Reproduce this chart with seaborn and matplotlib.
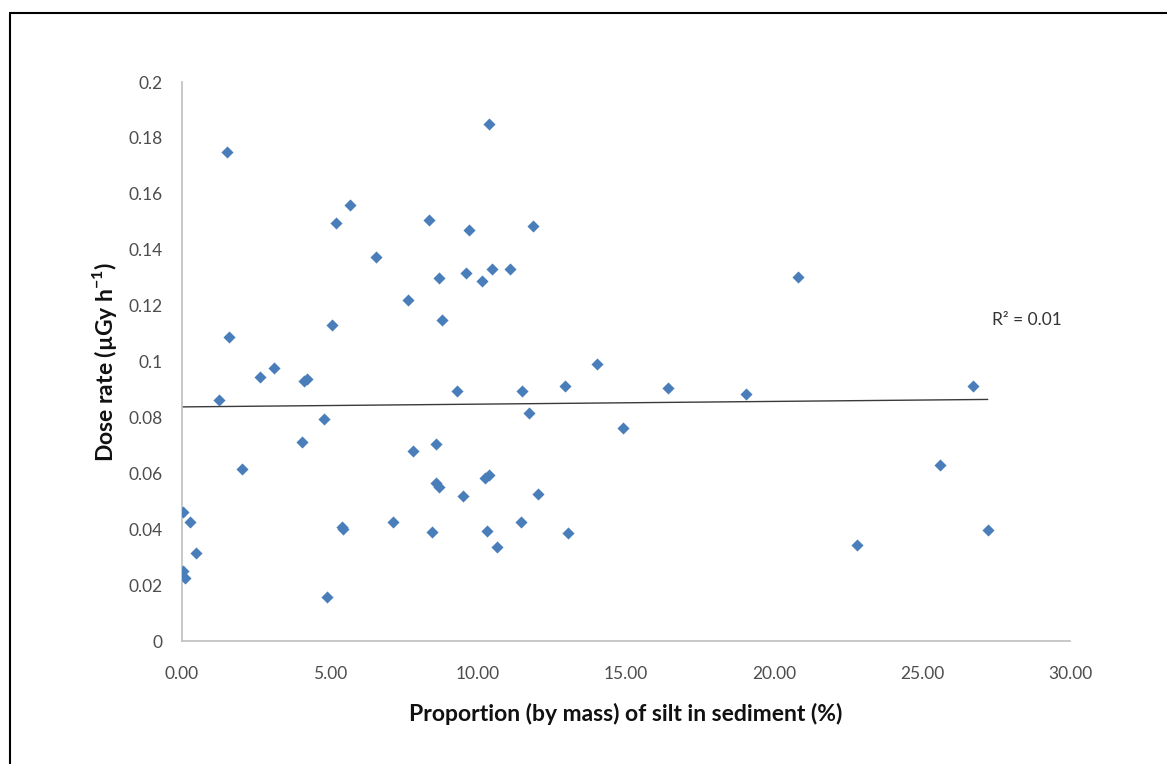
import numpy as np
import pandas as pd
import matplotlib
matplotlib.use("Agg")
import matplotlib.pyplot as plt
import seaborn as sns
from matplotlib.lines import Line2D

# ---- data ----
silt_pct = [1.53, 10.38, 5.68, 5.19, 8.33, 9.70, 11.85, 6.54, 8.67, 9.58,
            10.15, 10.47, 11.07, 20.80, 7.62, 8.77, 5.08, 1.59,
            2.64, 3.10, 4.13, 4.21, 1.25, 9.29, 11.48, 12.94, 14.01, 16.43,
            19.04, 26.73, 4.79, 11.73, 14.91, 4.06, 7.82, 8.57, 2.02, 25.62,
            8.58, 8.69, 9.49, 10.24, 10.36, 12.03, 0.05, 0.26, 0.47, 0.05,
            0.09, 5.39, 5.45, 4.91, 7.12, 8.43, 10.29, 10.63, 11.46, 13.04,
            22.81, 27.22]
dose_rate = [0.175, 0.185, 0.156, 0.1497, 0.1507, 0.147, 0.1485, 0.1373, 0.130, 0.1318,
             0.1289, 0.133, 0.1331, 0.1303, 0.122, 0.115, 0.113, 0.1087,
             0.0943, 0.0978, 0.0929, 0.0936, 0.0862, 0.0896, 0.0894, 0.0913, 0.0991, 0.0904,
             0.0884, 0.0912, 0.0793, 0.0816, 0.0762, 0.0713, 0.0681, 0.0705, 0.0614, 0.0630,
             0.0564, 0.0550, 0.0519, 0.0582, 0.0594, 0.0526, 0.0463, 0.0426, 0.0316, 0.0252,
             0.0225, 0.0408, 0.0400, 0.0156, 0.0427, 0.0391, 0.0395, 0.0335, 0.0427, 0.0387,
             0.0343, 0.0397]
x_ticks = [0, 5, 10, 15, 20, 25, 30]
y_ticks = [0, 0.02, 0.04, 0.06, 0.08, 0.1, 0.12, 0.14, 0.16, 0.18, 0.2]
x_label = "Proportion (by mass) of silt in sediment (%)"
y_label = r"Dose rate (µGy h$^{\mathbf{-1}}$)"
r2_label = "R² = 0.01"

df = pd.DataFrame({"silt": silt_pct, "dose": dose_rate})

sns.set_theme(style="white")
plt.rcParams["font.family"] = ["Lato", "DejaVu Sans"]
plt.rcParams["mathtext.fontset"] = "custom"
plt.rcParams["mathtext.rm"] = "Lato"
plt.rcParams["mathtext.bf"] = "Lato:bold"

fig = plt.figure(figsize=(11.67, 7.64), dpi=100)
ax = fig.add_axes([182 / 1167, 1 - 641 / 764, (1070 - 182) / 1167, (641 - 82) / 764])

sns.scatterplot(data=df, x="silt", y="dose", marker="D", s=38, color="#4a7ebb",
                linewidth=0, ax=ax, zorder=3)

# linear trend line (least-squares fit, drawn from 0 to max x)
coef = np.polyfit(df["silt"], df["dose"], 1)
xs = np.array([0, df["silt"].max()])
ax.plot(xs, np.polyval(coef, xs), color="#3a3a3a", linewidth=1.0, zorder=2)

ax.set_xlim(0, 30)
ax.set_ylim(0, 0.2)
ax.set_xticks(x_ticks)
ax.set_yticks(y_ticks)
ax.set_xticklabels([f"{v:.2f}" for v in x_ticks])
ax.set_yticklabels([f"{v:g}" for v in y_ticks])
ax.tick_params(axis="both", length=0, labelsize=12.5, colors="#4d4d4d")
ax.tick_params(axis="x", pad=18)
ax.tick_params(axis="y", pad=14)

for side in ["top", "right"]:
    ax.spines[side].set_visible(False)
for side in ["left", "bottom"]:
    ax.spines[side].set_color("#bfbfbf")
    ax.spines[side].set_linewidth(1.2)

ax.set_xlabel(x_label, fontsize=16.5, fontweight="bold", color="#111111", labelpad=15)
ax.set_ylabel(y_label, fontsize=16.5, fontweight="bold", color="#111111", labelpad=7)

ax.text(28.55, 0.1149, r2_label, fontsize=12.5, color="#333333", ha="center", va="center")

# outer frame (left and top edges visible)
x0 = 9.5 / 1167
y0 = 1 - 12.5 / 764
fig.add_artist(Line2D([x0, x0], [0, y0], color="black", linewidth=1.5,
                      transform=fig.transFigure))
fig.add_artist(Line2D([x0, 1], [y0, y0], color="black", linewidth=1.5,
                      transform=fig.transFigure))

fig.savefig("out.png", dpi=100, facecolor="white")
